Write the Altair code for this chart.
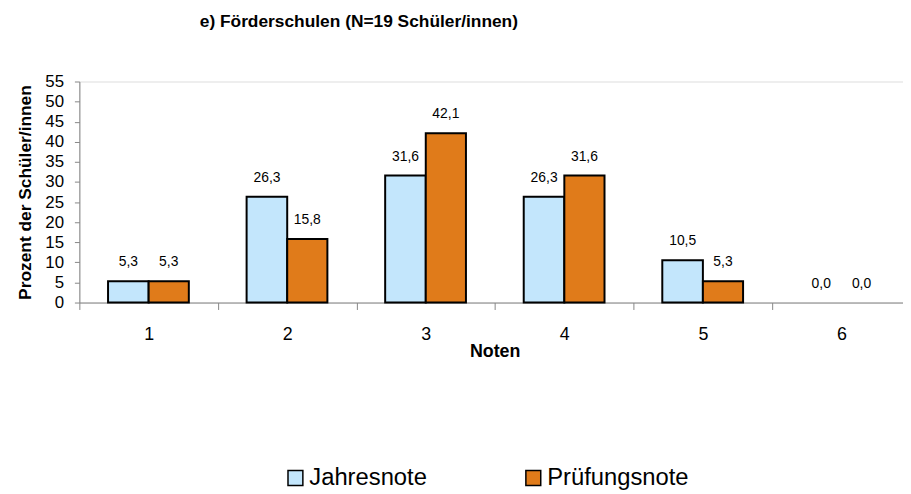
import altair as alt
import pandas as pd

grades = [1, 2, 3, 4, 5, 6]
series = ["Jahresnote", "Prüfungsnote"]
jahresnote = [5.3, 26.3, 31.6, 26.3, 10.5, 0.0]
pruefungsnote = [5.3, 15.8, 42.1, 31.6, 5.3, 0.0]
colors = ["#C3E6FC", "#E07B1A"]
y_ticks = list(range(0, 56, 5))
x_bounds = [0.5, 1.5, 2.5, 3.5, 4.5, 5.5]

rows = []
for g, a, b in zip(grades, jahresnote, pruefungsnote):
    rows.append({"g": g, "s": series[0], "v": a})
    rows.append({"g": g, "s": series[1], "v": b})
df = pd.DataFrame(rows)

FONT = "Liberation Sans"
PLOT_W = 831
PLOT_H = 223
BAND = 139.8
xdom = [0.5, 0.5 + PLOT_W / BAND]

base = alt.Chart(df).transform_calculate(
    x0="datum.s == 'Jahresnote' ? datum.g - 0.293 : datum.g",
    x1="datum.s == 'Jahresnote' ? datum.g : datum.g + 0.29",
    xm="datum.s == 'Jahresnote' ? datum.g - 0.146 : datum.g + 0.145",
    lab="replace(format(datum.v, '.1f'), '.', ',')",
)

xscale = alt.Scale(domain=xdom, nice=False, zero=False)
yscale = alt.Scale(domain=[0, 55], nice=False)

xaxis = alt.Axis(
    title="Noten",
    values=x_bounds,
    labelExpr="format(datum.value + 0.5, 'd')",
    labelOffset=BAND / 2,
    labelFlush=False,
    labelOverlap=False,
    labelBound=False,
    labelAlign="center",
    labelFont=FONT,
    labelFontSize=18,
    labelColor="black",
    labelPadding=16,
    tickSize=7,
    tickColor="#868686",
    domainColor="#868686",
    grid=False,
    titleFont=FONT,
    titleFontSize=18,
    titleFontWeight="bold",
    titleColor="black",
    titleX=419,
    titleY=40,
    titleBaseline="top",
    titleAnchor="start",
    titleAlign="center",
)

yaxis = alt.Axis(
    title="Prozent der Schüler/innen",
    values=y_ticks,
    labelFont=FONT,
    labelFontSize=17,
    labelColor="black",
    labelPadding=11,
    labelOverlap=False,
    labelFlush=False,
    labelBound=False,
    tickSize=5,
    tickColor="#868686",
    domainColor="#868686",
    grid=False,
    titleFont=FONT,
    titleFontSize=17.5,
    titleFontWeight="bold",
    titleColor="black",
    titlePadding=10,
)

bars = base.mark_bar(stroke="black", strokeWidth=2).encode(
    x=alt.X("x0:Q", scale=xscale, axis=xaxis),
    x2="x1:Q",
    y=alt.Y("v:Q", scale=yscale, axis=yaxis),
    y2=alt.datum(0),
    strokeOpacity=alt.condition("datum.v > 0", alt.value(1), alt.value(0)),
    color=alt.Color(
        "s:N",
        scale=alt.Scale(domain=series, range=colors),
        legend=alt.Legend(
            title=None,
            orient="none",
            legendX=206,
            legendY=388,
            direction="horizontal",
            symbolType="square",
            symbolSize=225,
            symbolStrokeColor="black",
            symbolStrokeWidth=1.5,
            symbolOpacity=1,
            labelFont=FONT,
            labelFontSize=24,
            labelColor="black",
            labelOffset=2,
            columnPadding=95,
            padding=0,
        ),
    ),
)

labels = base.mark_text(
    font=FONT, fontSize=14, color="black", baseline="alphabetic", dy=-15
).encode(
    x=alt.X("xm:Q", scale=xscale, axis=xaxis),
    y=alt.Y("v:Q", scale=yscale, axis=yaxis),
    text="lab:N",
)

chart = (
    alt.layer(bars, labels)
    .properties(
        width=PLOT_W,
        height=PLOT_H,
        padding={"left": 72, "top": 72, "right": 0, "bottom": 191},
        autosize=alt.AutoSizeParams(type="none"),
        title=alt.TitleParams(
            text="e) Förderschulen (N=19 Schüler/innen)",
            font=FONT,
            fontSize=17.5,
            fontWeight="bold",
            color="black",
            anchor="middle",
            frame="group",
            dx=-133.5,
            offset=43,
        ),
    )
    .configure_view(stroke=None)
    .configure(background="white")
)

chart.save("out.html", embed_options={"renderer": "svg", "actions": False})
